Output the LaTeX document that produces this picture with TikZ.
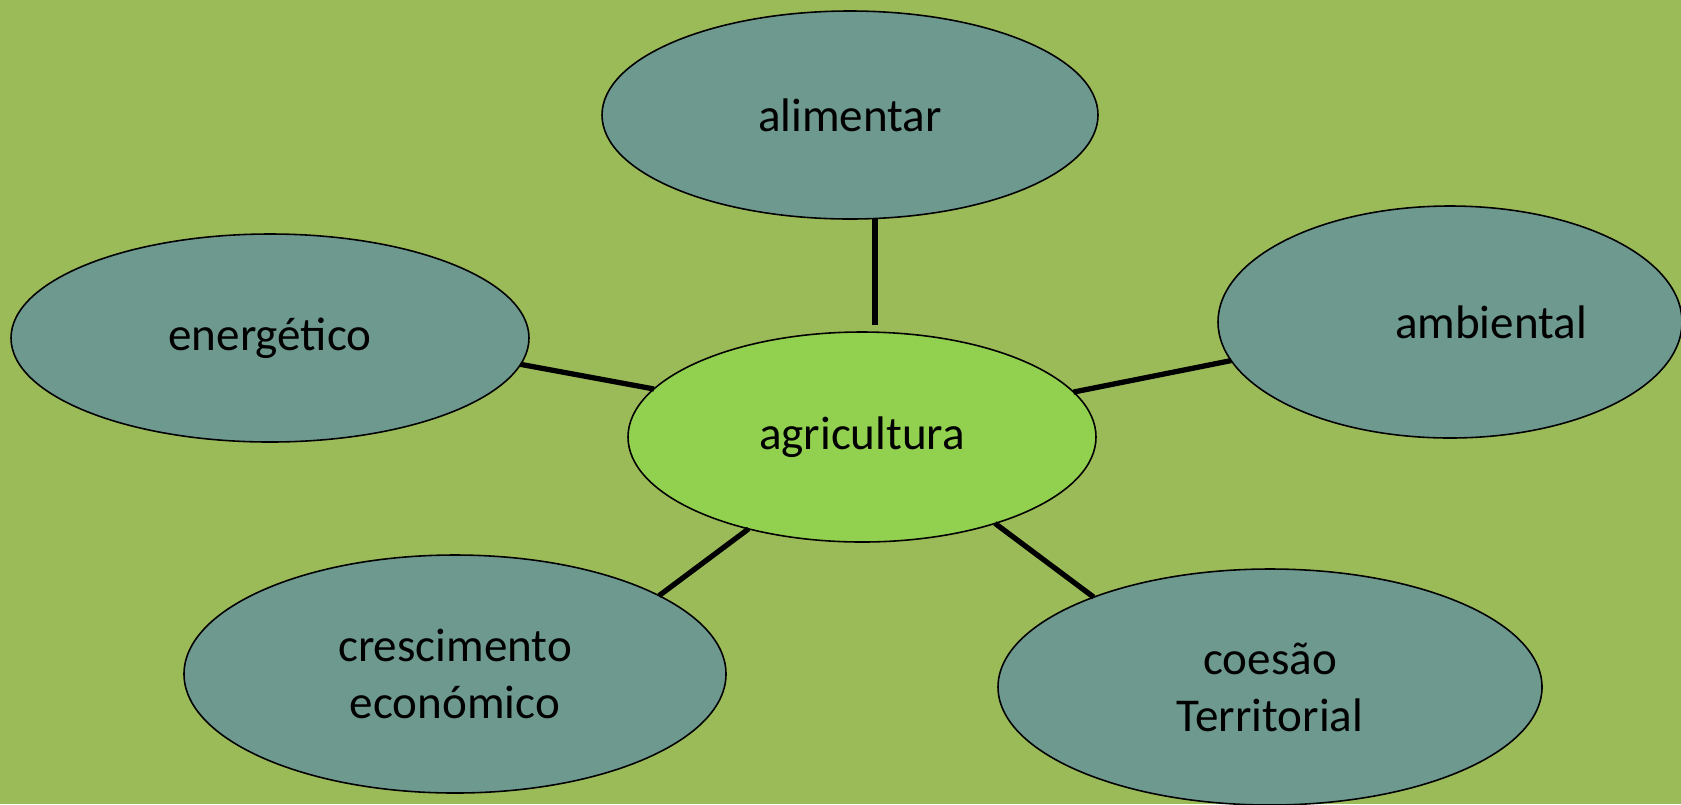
\documentclass[tikz,border=0pt]{standalone}
\usepackage{fontspec}
\setmainfont{Carlito}
\usepackage{tikz}
\usetikzlibrary{shapes.geometric,calc}
\definecolor{fundo}{HTML}{9BBB59}
\definecolor{petroleo}{HTML}{6E998F}
\definecolor{verdeclaro}{HTML}{92D050}

\begin{document}
\begin{tikzpicture}[
  bolha/.style={ellipse,draw=black,line width=0.45pt,fill=petroleo,inner sep=0pt,outer sep=0pt,align=center,
    font=\fontsize{13.4}{16.2}\selectfont},
  ligacao/.style={line width=1.5pt,black}]
\fill[fundo] (0,0) rectangle (16.81,8.04);
\useasboundingbox (0,0) rectangle (16.81,8.04);
\node[bolha,fill=verdeclaro,minimum width=4.68cm,minimum height=2.10cm] (agri) at (8.62,3.67) {agricultura};
\node[bolha,minimum width=4.96cm,minimum height=2.08cm] (ali) at (8.50,6.89) {alimentar};
\node[bolha,minimum width=4.64cm,minimum height=2.32cm] (amb) at (14.50,4.82) {\hspace*{0.82cm}ambiental};
\node[bolha,minimum width=5.18cm,minimum height=2.08cm] (ener) at (2.70,4.66) {energético};
\node[bolha,minimum width=5.42cm,minimum height=2.38cm] (cres) at (4.55,1.30) {crescimento\\económico};
\node[bolha,minimum width=5.44cm,minimum height=2.36cm] (coes) at (12.70,1.17) {coesão\\Territorial};
\draw[ligacao,shorten >=0.07cm] (agri.83 |- ali.south) -- (agri.83);
\draw[ligacao] (ener.-6) -- (agri.167);
\draw[ligacao] (amb.-170) -- (agri.12);
\draw[ligacao] (cres.21) -- (agri.-141);
\draw[ligacao] (coes.153) -- (agri.-33);
\end{tikzpicture}
\end{document}
